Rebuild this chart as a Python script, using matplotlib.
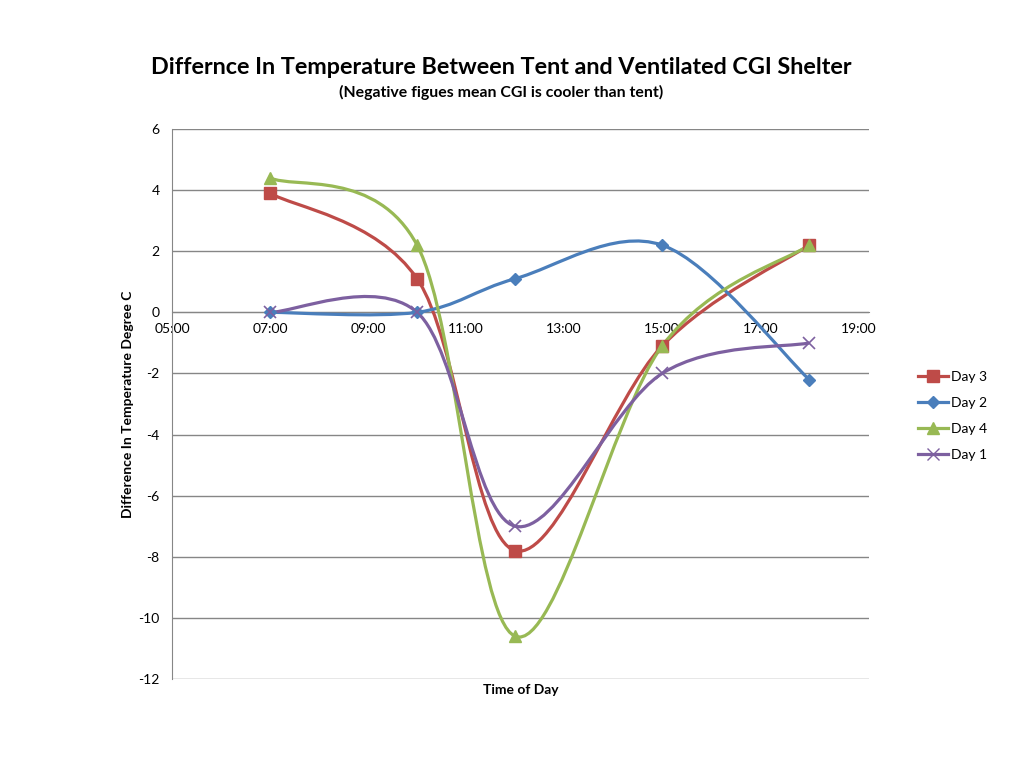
import matplotlib.pyplot as plt
from matplotlib.path import Path
from matplotlib.patches import PathPatch
from matplotlib.lines import Line2D

plt.rcParams['font.family'] = ['Lato', 'DejaVu Sans']

# Hours of the day for each reading
hours = [7, 10, 12, 15, 18]

# Temperature difference (tent - CGI), degree C
day3 = [3.9, 1.1, -7.8, -1.1, 2.2]
day2 = [0.0, 0.0, 1.1, 2.2, -2.2]
day4 = [4.4, 2.2, -10.6, -1.1, 2.2]
day1 = [0.0, 0.0, -7.0, -2.0, -1.0]

series_names = ['Day 3', 'Day 2', 'Day 4', 'Day 1']
series_values = [day3, day2, day4, day1]
colors = ['#BE4B48', '#4A7EBB', '#98B954', '#7D60A0']
markers = ['s', 'D', '^', 'x']
marker_sizes = [8, 6, 8, 8]

xtick_pos = [5, 7, 9, 11, 13, 15, 17, 19]
xtick_labels = ['05:00', '07:00', '09:00', '11:00', '13:00', '15:00', '17:00', '19:00']
ytick_pos = [6, 4, 2, 0, -2, -4, -6, -8, -10, -12]
ytick_labels = [str(v) for v in ytick_pos]


def smooth_path(x, y):
    """Excel style smoothed line: Catmull-Rom as cubic bezier segments."""
    verts = [(x[0], y[0])]
    codes = [Path.MOVETO]
    n = len(x)
    for i in range(n - 1):
        a = i - 1 if i > 0 else i
        d = i + 2 if i + 2 < n else i + 1
        c1 = (x[i] + (x[i + 1] - x[a]) / 6, y[i] + (y[i + 1] - y[a]) / 6)
        c2 = (x[i + 1] - (x[d] - x[i]) / 6, y[i + 1] - (y[d] - y[i]) / 6)
        verts += [c1, c2, (x[i + 1], y[i + 1])]
        codes += [Path.CURVE4] * 3
    return Path(verts, codes)


fig = plt.figure(figsize=(10.24, 7.68), dpi=100)
ax = fig.add_axes([172 / 1024, 1 - 679 / 768, 697 / 1024, 550 / 768])

grey = '#868686'
for i, vals in enumerate(series_values):
    patch = PathPatch(smooth_path(hours, vals), facecolor='none',
                      edgecolor=colors[i], lw=2.3, zorder=3 + i)
    ax.add_patch(patch)
    ax.plot(hours, vals, linestyle='none', marker=markers[i],
            markersize=marker_sizes[i], color=colors[i],
            markeredgewidth=1.2 if markers[i] == 'x' else 1.0, zorder=8 + i)

ax.set_xlim(5, 19.22)
ax.set_ylim(-12, 6)
ax.set_xticks(xtick_pos)
ax.set_xticklabels(xtick_labels)
ax.set_yticks(ytick_pos)
ax.set_yticklabels(ytick_labels)
ax.tick_params(length=0, labelsize=10, colors='black')
ax.tick_params(axis='x', pad=8)
ax.tick_params(axis='y', pad=9)

ax.yaxis.grid(True, color=grey, lw=1.0)
ax.set_axisbelow(True)
for s in ['top', 'right']:
    ax.spines[s].set_visible(False)
ax.spines['bottom'].set_position(('data', 0))
ax.spines['bottom'].set_color(grey)
ax.spines['left'].set_color(grey)

ax.text(-0.063, 0.5, 'Difference In Temperature Degree C', transform=ax.transAxes,
        rotation=90, ha='center', va='center', fontsize=10, fontweight='bold')
ax.text(0.5, -0.02, 'Time of Day', transform=ax.transAxes,
        ha='center', va='center', fontsize=10, fontweight='bold')

fig.text(501 / 1024, 1 - 67 / 768,
         'Differnce In Temperature Between Tent and Ventilated CGI Shelter',
         ha='center', va='center', fontsize=16.8, fontweight='bold')
fig.text(501 / 1024, 1 - 92 / 768, '(Negative figues mean CGI is cooler than tent)',
         ha='center', va='center', fontsize=11.4, fontweight='bold')

handles = [Line2D([], [], color=colors[i], lw=2.3, marker=markers[i],
                  markersize=marker_sizes[i]) for i in range(4)]
ax.legend(handles, series_names, loc='center left',
          bbox_to_anchor=(912 / 1024, 1 - 416 / 768), bbox_transform=fig.transFigure,
          frameon=False, fontsize=10, handlelength=2.2, handletextpad=0.2,
          labelspacing=1.0, borderaxespad=0)

fig.savefig('out.png', dpi=100)
